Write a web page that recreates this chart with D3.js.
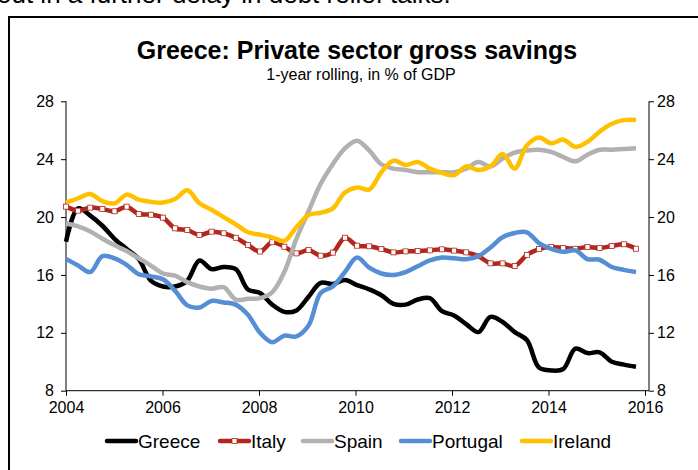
<!DOCTYPE html>
<html>
<head>
<meta charset="utf-8">
<script src="https://cdn.jsdelivr.net/npm/d3@7"></script>
<style>
  body { margin: 0; background: #fff; }
  #chart { width: 698px; height: 470px; }
  text { font-family: Arial, "Liberation Sans", sans-serif; }
</style>
</head>
<body>
<div id="chart"></div>
<script>
"use strict";

// Quarterly observations, 2004Q1 .. 2015Q4 (48 points).
var quarters = d3.range(48).map(function (i) { return 2004 + Math.floor(i / 4) + "Q" + (i % 4 + 1); });

var greece = [18.3, 20.6, 20.1, 19.4, 18.5, 17.8, 17.1, 15.6, 15.2, 15.2, 15.6, 17.0,
    16.4, 16.55, 16.4, 15.0, 14.75, 13.95, 13.45, 13.55, 14.5, 15.45, 15.38, 15.65,
    15.3, 15.0, 14.6, 14.0, 13.95, 14.3, 14.4, 13.5, 13.2, 12.6, 12.05, 13.1,
    12.75, 12.05, 11.5, 9.6, 9.4, 9.5, 10.9, 10.6, 10.65, 10.0, 9.8, 9.65];
var italy = [20.72, 20.44, 20.65, 20.56, 20.40, 20.72, 20.21, 20.16, 19.96, 19.22, 19.11, 18.76,
    18.99, 18.88, 18.57, 18.07, 17.62, 18.26, 17.95, 17.49, 17.72, 17.33, 17.54, 18.57,
    18.02, 17.98, 17.79, 17.56, 17.63, 17.65, 17.70, 17.77, 17.68, 17.56, 17.3, 16.80,
    16.80, 16.62, 17.38, 17.79, 17.93, 17.86, 17.81, 17.93, 17.86, 18.0, 18.12, 17.81];
var spain = [19.55, 19.35, 19.0, 18.5, 18.05, 17.65, 17.15, 16.65, 16.1, 15.95, 15.5, 15.2,
    15.05, 15.15, 14.3, 14.35, 14.4, 14.8, 16.2, 18.5, 20.4, 22.3, 23.65, 24.75,
    25.28, 24.6, 23.65, 23.35, 23.25, 23.1, 23.1, 23.1, 23.1, 23.35, 23.8, 23.5,
    24.05, 24.45, 24.6, 24.65, 24.5, 24.15, 23.85, 24.3, 24.65, 24.65, 24.7, 24.75];
var portugal = [17.1, 16.65, 16.2, 17.3, 17.15, 16.7, 16.05, 15.9, 15.7, 14.9, 13.9, 13.75,
    14.2, 14.1, 13.95, 13.25, 12.0, 11.35, 11.8, 11.75, 12.5, 14.75, 15.2, 16.2,
    17.2, 16.5, 16.1, 16.0, 16.2, 16.6, 17.0, 17.2, 17.15, 17.08, 17.3, 17.9,
    18.6, 18.9, 18.95, 18.2, 17.8, 17.6, 17.7, 17.1, 17.05, 16.55, 16.35, 16.2];
var ireland = [21.0, 21.3, 21.6, 21.1, 20.95, 21.55, 21.2, 21.05, 21.0, 21.25, 21.85, 20.95,
    20.5, 20.0, 19.5, 18.95, 18.78, 18.6, 18.35, 19.3, 20.15, 20.3, 20.6, 21.7,
    22.05, 21.9, 23.1, 23.9, 23.6, 23.8, 23.35, 23.05, 22.9, 23.5, 23.25, 23.5,
    24.35, 23.35, 24.95, 25.5, 25.1, 25.35, 24.85, 25.2, 25.9, 26.45, 26.7, 26.7];

var seriesNames = ["Greece", "Italy", "Spain", "Portugal", "Ireland"];
var seriesValues = [greece, italy, spain, portugal, ireland];
var seriesColors = ["#000000", "#B3261E", "#B1B1B1", "#558ED5", "#FFC000"];

var yTicks = [8, 12, 16, 20, 24, 28];
var xTicks = [2004, 2006, 2008, 2010, 2012, 2014, 2016];

var width = 698, height = 470;
var plot = {left: 66, right: 649, top: 101.3, bottom: 390.7};

var svg = d3.select("#chart").append("svg")
    .attr("width", width).attr("height", height);

// Cut-off line of text above the chart box.
svg.append("text")
    .attr("x", -3).attr("y", 3)
    .attr("font-size", 26)
    .text("out in a further delay in debt relief talks.");

// Chart frame.
svg.append("rect")
    .attr("x", 9).attr("y", 17)
    .attr("width", 720).attr("height", 520)
    .attr("fill", "none").attr("stroke", "#000").attr("stroke-width", 2);

svg.append("text")
    .attr("x", 357).attr("y", 59)
    .attr("text-anchor", "middle")
    .attr("font-size", 25).attr("font-weight", "bold")
    .text("Greece: Private sector gross savings");

svg.append("text")
    .attr("x", 361).attr("y", 80)
    .attr("text-anchor", "middle")
    .attr("font-size", 16)
    .text("1-year rolling, in % of GDP");

var x = d3.scaleLinear().domain([2004, 2016]).range([66, 645]);
var y = d3.scaleLinear().domain([8, 28]).range([plot.bottom, plot.top]);

// Position of each quarterly point along the date axis.
var step = (636 - 66) / 47;
var xPos = function (i) { return x(2004) + i * step; };

// Axes.
var left = svg.append("g")
    .attr("transform", "translate(" + plot.left + ",0)")
    .call(d3.axisLeft(y).tickValues(yTicks).tickSize(5).tickPadding(7));
var right = svg.append("g")
    .attr("transform", "translate(" + plot.right + ",0)")
    .call(d3.axisRight(y).tickValues(yTicks).tickSize(5).tickPadding(3));
var bottom = svg.append("g")
    .attr("transform", "translate(0," + plot.bottom + ")")
    .call(d3.axisBottom(x).tickValues(xTicks).tickFormat(d3.format("d")).tickSize(5).tickPadding(6));

[left, right, bottom].forEach(function (g) {
    g.select(".domain").remove();
    g.selectAll("line").attr("stroke", "#000").attr("stroke-width", 1);
    g.selectAll("text").attr("font-size", 16).attr("fill", "#000")
        .attr("font-family", "Arial, 'Liberation Sans', sans-serif");
});

svg.append("line")
    .attr("x1", plot.left).attr("x2", plot.left)
    .attr("y1", plot.top).attr("y2", plot.bottom)
    .attr("stroke", "#000");
svg.append("line")
    .attr("x1", plot.right).attr("x2", plot.right)
    .attr("y1", plot.top).attr("y2", plot.bottom)
    .attr("stroke", "#000");
svg.append("line")
    .attr("x1", plot.left).attr("x2", plot.right)
    .attr("y1", plot.bottom).attr("y2", plot.bottom)
    .attr("stroke", "#000");

// Series lines.
var line = d3.line()
    .x(function (d, i) { return xPos(i); })
    .y(function (d) { return y(d); })
    .curve(d3.curveCatmullRom.alpha(0.5));

var lines = svg.append("g").attr("class", "lines");
seriesValues.forEach(function (vals, k) {
    lines.append("path")
        .datum(vals)
        .attr("d", line)
        .attr("fill", "none")
        .attr("stroke", seriesColors[k])
        .attr("stroke-width", 4.5)
        .attr("stroke-linejoin", "round");
    if (seriesNames[k] === "Italy") {
        lines.append("g").selectAll("rect")
            .data(vals)
            .enter().append("rect")
            .attr("x", function (d, i) { return xPos(i) - 2.5; })
            .attr("y", function (d) { return y(d) - 2.5; })
            .attr("width", 5).attr("height", 5)
            .attr("fill", "#fff")
            .attr("stroke", seriesColors[k]).attr("stroke-width", 0.8);
    }
});

// Legend.
var legendX = [107, 220, 303, 401, 522];
var legend = svg.append("g").attr("class", "legend");
seriesNames.forEach(function (name, k) {
    var lx = legendX[k];
    legend.append("line")
        .attr("x1", lx).attr("x2", lx + 29)
        .attr("y1", 441).attr("y2", 441)
        .attr("stroke", seriesColors[k]).attr("stroke-width", 4.5)
        .attr("stroke-linecap", "round");
    if (name === "Italy") {
        legend.append("rect")
            .attr("x", lx + 14.5 - 2.5).attr("y", 441 - 2.5)
            .attr("width", 5).attr("height", 5)
            .attr("fill", "#fff")
            .attr("stroke", seriesColors[k]).attr("stroke-width", 0.8);
    }
    legend.append("text")
        .attr("x", lx + 31).attr("y", 448)
        .attr("font-size", 19)
        .text(name);
});
</script>
</body>
</html>
